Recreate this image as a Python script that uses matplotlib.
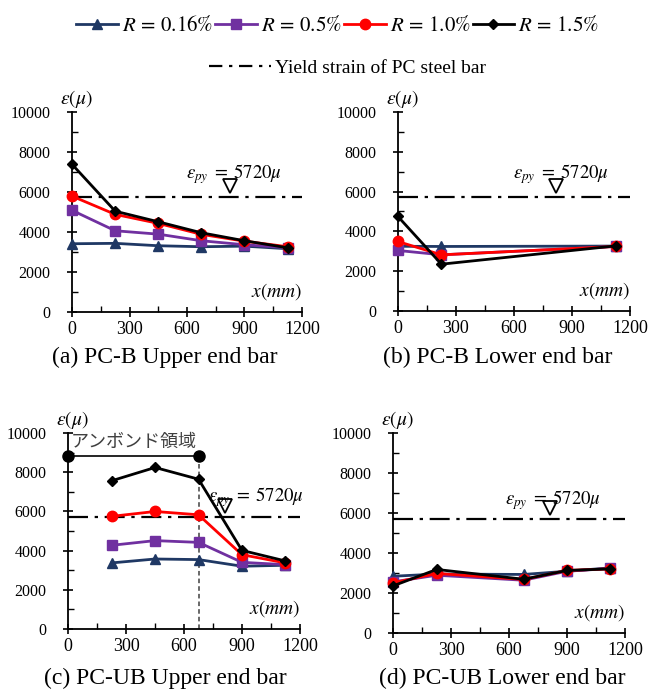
import numpy as np
import matplotlib.pyplot as plt
from matplotlib.lines import Line2D
from matplotlib.ticker import MultipleLocator

plt.rcParams['font.family'] = ['Liberation Serif', 'DejaVu Serif']
plt.rcParams['mathtext.fontset'] = 'stix'

# データ (x位置 mm, ひずみ μ)
labels = [r'$R\,=\,0.16\%$', r'$R\,=\,0.5\%$', r'$R\,=\,1.0\%$', r'$R\,=\,1.5\%$']

x_a = [0, 225, 450, 675, 900, 1125]
a_r016 = [3400, 3420, 3300, 3250, 3280, 3150]
a_r05 = [5070, 4050, 3880, 3550, 3350, 3200]
a_r10 = [5780, 4870, 4420, 3870, 3530, 3250]
a_r15 = [7370, 5030, 4500, 3950, 3550, 3200]

x_b = [0, 225, 1125]
b_r016 = [3250, 3240, 3260]
b_r05 = [3040, 2820, 3240]
b_r10 = [3490, 2820, 3240]
b_r15 = [4750, 2350, 3270]

x_c = [225, 450, 675, 900, 1125]
c_r016 = [3370, 3570, 3540, 3200, 3250]
c_r05 = [4270, 4510, 4420, 3400, 3280]
c_r10 = [5750, 6000, 5830, 3790, 3370]
c_r15 = [7570, 8250, 7650, 4010, 3470]

x_d = [0, 225, 675, 900, 1125]
d_r016 = [2840, 2950, 2930, 3090, 3260]
d_r05 = [2560, 2890, 2640, 3090, 3230]
d_r10 = [2510, 2980, 2680, 3130, 3210]
d_r15 = [2360, 3180, 2690, 3130, 3210]

yield_strain = 5720
unbond_x = [0, 675]
unbond_y = 8840

titles = ['(a) PC-B Upper end bar', '(b) PC-B Lower end bar',
          '(c) PC-UB Upper end bar', '(d) PC-UB Lower end bar']

styles = [
    dict(color='#1F3864', marker='^', ms=7),
    dict(color='#7030A0', marker='s', ms=7),
    dict(color='#FF0000', marker='o', ms=7.5),
    dict(color='black', marker='D', ms=5.5),
]

panels = [
    (x_a, [a_r016, a_r05, a_r10, a_r15]),
    (x_b, [b_r016, b_r05, b_r10, b_r15]),
    (x_c, [c_r016, c_r05, c_r10, c_r15]),
    (x_d, [d_r016, d_r05, d_r10, d_r15]),
]

# 軸の位置 [left, bottom, width, height]
rects = [
    [0.109, 0.549, 0.347, 0.289],
    [0.601, 0.550, 0.351, 0.288],
    [0.103, 0.090, 0.350, 0.283],
    [0.594, 0.084, 0.350, 0.289],
]
tri_x = [826, 815, 810, 812]
lab_x = [845, 840, 975, 830]
lab_y = [6880, 6880, 6750, 6650]
title_pos = [(165, 357), (498, 357), (165, 678), (502, 678)]

fig = plt.figure(figsize=(6.62, 6.91), dpi=100)

for i, (xs, series) in enumerate(panels):
    ax = fig.add_axes(rects[i])
    for vals, st in zip(series, styles):
        ax.plot(xs, vals, color=st['color'], lw=2, marker=st['marker'],
                ms=st['ms'], mfc=st['color'], mec=st['color'], clip_on=False, zorder=3)
    ax.plot([0, 1200], [yield_strain, yield_strain], color='black', lw=1.6,
            dashes=(9, 3, 1.5, 3), clip_on=False, zorder=2)
    ax.plot([tri_x[i]], [6280], marker='v', ms=10, mfc='white', mec='black',
            mew=1.3, clip_on=False, zorder=4)
    ax.text(lab_x[i], lab_y[i], r'$\varepsilon_{py}\;=\;5720\mu$', ha='center',
            va='center', fontsize=13.5, zorder=5)

    if i == 2:
        ax.plot(unbond_x, [unbond_y, unbond_y], color='black', lw=1.2,
                marker='o', ms=8, clip_on=False, zorder=4)
        ax.plot([675, 675], [0, unbond_y], color='#404040', lw=1.1,
                ls=(0, (3, 2)), zorder=1)
        ax.text(15, 9560, 'アンボンド領域', fontsize=13, color='#404040',
                family=['Noto Sans CJK JP', 'DejaVu Sans'], va='center', ha='left')

    ax.set_xlim(0, 1200)
    ax.set_ylim(0, 10000)
    ax.spines['top'].set_visible(False)
    ax.spines['right'].set_visible(False)
    ax.spines['left'].set_linewidth(1.3)
    ax.spines['bottom'].set_linewidth(1.3)
    ax.xaxis.set_major_locator(MultipleLocator(300))
    ax.xaxis.set_minor_locator(MultipleLocator(150))
    ax.yaxis.set_major_locator(MultipleLocator(2000))
    ax.yaxis.set_minor_locator(MultipleLocator(1000))
    ax.tick_params(which='major', direction='inout', length=7, width=1.2)
    ax.tick_params(axis='y', which='major', pad=12, labelsize=11.5)
    ax.tick_params(axis='x', which='major', pad=3, labelsize=13)
    ax.tick_params(which='minor', direction='in', length=4, width=1.0)
    ax.patch.set_alpha(0)

    ax.text(0.02, 1.01, r'$\varepsilon(\mu)$', transform=ax.transAxes,
            ha='center', va='bottom', fontsize=14)
    ax.text(1.0, 0.05, r'$x(mm)$', transform=ax.transAxes,
            ha='right', va='bottom', fontsize=14)

    tx, ty = title_pos[i]
    fig.text(tx / 662, 1 - ty / 691, titles[i], ha='center', va='center',
             fontsize=17)

handles = [Line2D([], [], color=st['color'], lw=2, marker=st['marker'],
                  ms=st['ms']) for st in styles]
fig.legend(handles, labels, loc='center', bbox_to_anchor=(0.51, 0.962),
           ncol=4, frameon=False, fontsize=15, handlelength=2.0,
           columnspacing=0.1, handletextpad=0.2)
yl = Line2D([], [], color='black', lw=1.6, dashes=(6, 3, 1.5, 3))
fig.legend([yl], ['Yield strain of PC steel bar'], loc='center',
           bbox_to_anchor=(0.525, 0.902), frameon=False, fontsize=14,
           handlelength=3.2, handletextpad=0.2)

fig.savefig('out.png', dpi=100)
